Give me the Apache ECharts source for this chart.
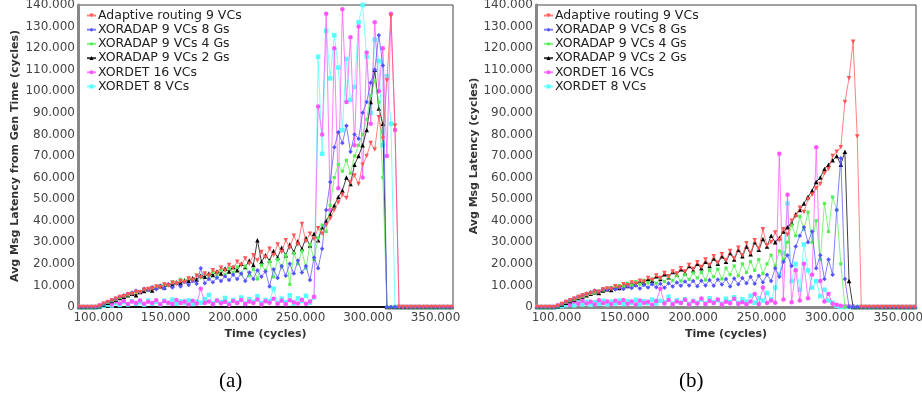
<!DOCTYPE html>
<html>
<head>
<meta charset="utf-8">
<script src="https://cdn.jsdelivr.net/npm/echarts@6/dist/echarts.min.js"></script>
<style>
  html, body { margin: 0; padding: 0; background: #fff; }
  #main { width: 922px; height: 404px; }
</style>
</head>
<body>
<div id="main"></div>
<script>
// time in kilocycles, latencies in kilocycles (labels print them as "x.000")
var time = [86, 89, 92, 95, 98, 101, 104, 107, 110, 113,
  116, 119, 122, 125, 128, 131, 134, 137, 140, 143,
  146, 149, 152, 155, 158, 161, 164, 167, 170, 173,
  176, 179, 182, 185, 188, 191, 194, 197, 200, 203,
  206, 209, 212, 215, 218, 221, 224, 227, 230, 233,
  236, 239, 242, 245, 248, 251, 254, 257, 260, 263,
  266, 269, 272, 275, 278, 281, 284, 287, 290, 293,
  296, 299, 302, 305, 308, 311, 314, 317, 320, 323,
  326, 329, 332, 335, 338, 341, 344, 347, 350, 353, 356, 359, 362];

var seriesNames = ['Adaptive routing 9 VCs', 'XORADAP 9 VCs 8 Gs', 'XORADAP 9 VCs 4 Gs',
  'XORADAP 9 VCs 2 Gs', 'XORDET 16 VCs', 'XORDET 8 VCs'];
var colors = ['#ff5555', '#5555ff', '#55ee55', '#000000', '#ff55ff', '#55ffff'];

// every series is flat at zero after its last sample
var tailZeros = [0, 0, 0, 0, 0, 0, 0, 0, 0, 0, 0, 0, 0];

// (a) latency measured from generation time
var adaptiveA = [0, 0, 0, 0, 0, 0.5, 1.5, 2.2, 3.0, 3.8,
  4.6, 5.0, 5.8, 6.0, 7.0, 6.8, 8.0, 8.3, 8.6, 9.5,
  9.2, 10.4, 10.0, 11.2, 10.8, 12.0, 11.5, 13.2, 12.6, 14.5,
  13.8, 15.5, 14.6, 17.0, 15.8, 18.2, 16.9, 19.5, 18.0, 21.0,
  19.4, 22.5, 20.0, 24.0, 21.5, 25.5, 23.0, 27.0, 24.0, 29.0,
  25.5, 31.0, 27.5, 33.0, 29.0, 38.5, 30.5, 34.0, 31.5, 36.5,
  34.0, 38.0, 41.0, 45.0, 48.5, 52.0, 50.5, 58.0, 61.0, 57.0,
  66.0, 70.0, 76.0, 73.0, 88.0, 78.0, 105.0, 135.0, 84.0, 0];
var xor8gA = [0, 0, 0, 0, 0, 0.5, 1.4, 2.4, 3.2, 3.9,
  4.8, 5.4, 6.2, 6.6, 7.5, 7.0, 8.5, 8.0, 9.2, 8.2,
  9.8, 8.6, 10.5, 9.0, 11.0, 9.5, 11.6, 10.2, 12.0, 10.8,
  18.0, 11.0, 13.0, 11.5, 13.6, 12.0, 14.2, 12.5, 15.0, 13.0,
  15.5, 12.0, 16.0, 13.0, 17.0, 14.0, 16.5, 9.5, 17.5, 13.5,
  19.0, 14.5, 20.0, 15.5, 21.5, 16.0, 19.0, 12.5, 23.0, 18.0,
  27.0, 45.0, 58.0, 74.0, 81.0, 76.0, 84.0, 72.0, 80.0, 78.0,
  90.0, 95.0, 104.0, 110.0, 126.0, 112.0, 0, 0, 0, 0];
var xor4gA = [0, 0, 0, 0, 0, 0.4, 1.3, 2.1, 2.9, 3.6,
  4.4, 5.2, 5.6, 6.5, 6.9, 7.2, 8.1, 8.0, 9.2, 8.8,
  10.0, 10.5, 10.2, 11.8, 11.4, 12.8, 12.0, 13.5, 12.7, 14.8,
  13.6, 15.4, 14.0, 16.3, 14.6, 17.2, 15.0, 18.0, 16.0, 18.6,
  15.2, 19.0, 14.5, 17.5, 13.0, 19.5, 17.0, 21.0, 14.0, 22.0,
  18.5, 24.0, 10.5, 25.0, 20.0, 26.0, 18.0, 29.0, 22.0, 32.0,
  38.0, 35.0, 47.0, 60.0, 66.0, 63.0, 68.0, 62.0, 70.0, 75.0,
  80.0, 87.0, 98.0, 105.0, 95.0, 60.0, 0, 0, 0, 0];
var xor2gA = [0, 0, 0, 0, 0, 0.3, 1.2, 2.0, 2.8, 3.5,
  4.2, 4.8, 5.5, 6.2, 5.4, 7.0, 7.4, 8.2, 7.6, 9.0,
  9.6, 9.0, 10.5, 10.2, 11.5, 11.0, 12.4, 12.0, 13.5, 12.8,
  14.5, 14.0, 15.5, 14.8, 16.5, 15.5, 17.8, 16.4, 18.5, 17.0,
  20.0, 18.5, 21.5, 19.5, 31.0, 21.0, 24.0, 21.5, 26.0, 23.0,
  27.5, 24.0, 29.0, 25.5, 30.5, 27.0, 32.0, 28.5, 34.0, 31.0,
  37.0, 40.0, 43.0, 47.0, 51.0, 54.0, 60.0, 57.0, 66.0, 70.0,
  75.0, 82.0, 95.0, 110.0, 92.0, 85.0, 0, 0, 0, 0];
var det16A = [0, 0, 0, 0, 0, 0.8, 1.5, 2.2, 1.2, 2.5,
  1.6, 2.8, 1.4, 2.6, 1.8, 3.0, 1.5, 2.4, 1.9, 3.1,
  1.3, 2.7, 2.0, 1.4, 3.2, 1.8, 2.5, 1.2, 2.9, 1.6,
  8.5, 1.9, 2.6, 1.3, 3.0, 1.7, 2.4, 1.1, 2.8, 1.9,
  3.3, 1.4, 2.6, 1.8, 3.5, 1.2, 2.7, 2.0, 3.8, 1.5,
  2.9, 1.3, 3.1, 2.2, 1.6, 3.4, 1.5, 2.6, 4.8, 93.0,
  80.0, 136.0, 45.0, 120.0, 55.0, 138.0, 95.0, 125.0, 75.0, 130.0,
  60.0, 118.0, 85.0, 132.0, 100.0, 120.0, 70.0, 136.0, 82.0, 0];
var det8A = [0, 0, 0, 0, 0, 0, 0.6, 1.1, 0.7, 1.8,
  1.0, 2.3, 1.2, 2.7, 1.5, 2.2, 1.1, 3.0, 1.6, 2.4,
  1.3, 2.9, 1.8, 3.4, 1.5, 2.6, 1.9, 3.1, 1.4, 2.5,
  2.0, 3.6, 5.6, 1.7, 3.0, 2.2, 4.2, 1.6, 3.2, 2.0,
  4.4, 1.5, 3.6, 2.4, 5.0, 1.8, 3.3, 2.6, 8.5, 1.9,
  3.9, 2.2, 5.4, 1.6, 4.0, 2.8, 5.2, 2.0, 4.5, 116.0,
  71.0, 128.0, 106.0, 126.0, 111.0, 82.0, 115.0, 96.0, 102.0, 132.0,
  140.0, 116.0, 90.0, 124.0, 114.0, 75.0, 107.0, 85.0, 0, 0];

// (b) latency
var adaptiveB = [0, 0, 0, 0, 0, 0.5, 1.4, 2.3, 3.1, 3.8,
  4.6, 5.3, 5.9, 6.5, 7.2, 7.0, 8.1, 8.6, 8.4, 9.6,
  9.2, 10.6, 10.1, 11.4, 10.8, 12.2, 11.7, 13.4, 12.5, 14.6,
  13.5, 15.8, 14.2, 16.5, 15.5, 18.0, 16.4, 19.5, 17.6, 20.8,
  18.5, 22.0, 19.5, 23.5, 20.5, 24.5, 21.5, 26.0, 22.5, 27.5,
  24.0, 29.5, 25.0, 31.0, 27.0, 36.0, 28.5, 30.0, 34.5, 31.0,
  36.0, 33.5, 40.0, 42.0, 46.0, 44.0, 50.0, 52.0, 55.0, 57.0,
  62.0, 64.0, 70.0, 72.0, 74.0, 95.0, 106.0, 123.0, 79.0, 0];
var xor8gB = [0, 0, 0, 0, 0, 0.5, 1.4, 2.4, 3.3, 4.0,
  4.9, 5.6, 6.2, 6.8, 7.6, 7.2, 8.3, 8.0, 8.8, 8.1,
  9.0, 8.4, 9.6, 8.8, 10.0, 8.6, 10.2, 9.0, 10.6, 9.2,
  10.8, 8.9, 11.0, 9.5, 11.4, 9.8, 11.8, 10.0, 12.0, 9.6,
  12.2, 10.0, 12.5, 9.8, 12.8, 10.4, 13.0, 9.5, 13.2, 10.5,
  13.4, 11.0, 14.0, 10.8, 14.5, 11.5, 15.0, 12.0, 18.0, 14.0,
  21.0, 24.0, 19.0, 28.0, 33.0, 37.0, 30.0, 35.0, 18.0, 24.0,
  13.0, 22.0, 15.0, 45.0, 69.0, 13.0, 0, 0, 0, 0];
var xor4gB = [0, 0, 0, 0, 0, 0.4, 1.3, 2.1, 2.9, 3.6,
  4.3, 5.0, 5.7, 6.3, 6.8, 7.5, 7.9, 8.6, 8.9, 9.4,
  10.0, 9.6, 11.0, 10.2, 11.8, 10.6, 12.4, 11.2, 13.0, 11.0,
  13.5, 11.8, 14.0, 12.2, 14.5, 12.0, 15.0, 12.8, 15.8, 13.5,
  16.0, 12.5, 17.0, 14.0, 17.5, 13.0, 18.0, 15.0, 19.0, 14.5,
  20.0, 16.0, 21.0, 17.0, 22.0, 15.5, 20.0, 24.0, 19.0, 26.0,
  22.0, 30.0, 38.0, 33.0, 42.0, 36.0, 44.0, 30.0, 40.0, 22.0,
  48.0, 35.0, 51.0, 45.0, 20.0, 0, 0, 0, 0, 0];
var xor2gB = [0, 0, 0, 0, 0, 0.3, 1.2, 2.0, 2.8, 3.5,
  4.2, 4.9, 5.5, 6.1, 6.8, 6.5, 7.6, 8.2, 7.9, 9.2,
  8.8, 10.2, 9.7, 11.0, 10.4, 11.8, 11.2, 13.0, 12.0, 14.2,
  13.0, 15.2, 13.8, 16.2, 15.0, 17.5, 15.8, 19.0, 17.0, 20.0,
  18.0, 21.0, 19.0, 22.5, 20.0, 23.5, 21.0, 25.0, 22.0, 26.5,
  23.5, 28.0, 24.5, 30.0, 26.5, 31.5, 28.0, 33.0, 30.0, 32.0,
  35.0, 37.0, 39.0, 43.0, 45.0, 48.0, 51.0, 54.0, 58.0, 60.0,
  64.0, 66.0, 68.0, 70.0, 66.0, 72.0, 12.0, 0, 0, 0];
var det16B = [0, 0, 0, 0, 0, 0.8, 1.4, 2.3, 1.1, 2.6,
  1.5, 2.9, 1.6, 2.4, 1.2, 3.1, 1.7, 2.5, 1.4, 2.9,
  1.8, 3.3, 1.5, 2.6, 1.2, 3.0, 1.9, 2.4, 1.1, 2.8,
  8.5, 1.6, 3.2, 1.3, 2.5, 1.9, 3.4, 1.2, 2.7, 1.6,
  3.9, 1.4, 2.8, 1.9, 3.5, 1.2, 2.4, 1.7, 3.8, 1.5,
  2.2, 1.3, 2.6, 6.0, 1.4, 9.0, 1.8, 3.0, 2.0, 71.0,
  3.5, 52.0, 2.2, 17.0, 3.0, 20.0, 4.0, 15.0, 74.0, 12.0,
  2.5, 6.0, 1.5, 1.0, 0.6, 0.4, 0.3, 0.2, 0, 0];
var det8B = [0, 0, 0, 0, 0, 0, 0.5, 0.9, 1.5, 0.8,
  2.0, 1.2, 2.4, 1.0, 2.2, 1.5, 2.8, 1.2, 2.5, 1.7,
  3.0, 1.4, 2.6, 1.9, 3.3, 1.3, 2.7, 1.8, 3.4, 1.6,
  2.9, 2.1, 4.8, 1.5, 3.1, 2.0, 3.6, 1.4, 2.8, 1.9,
  3.5, 1.6, 4.0, 2.1, 3.2, 1.5, 3.8, 2.3, 4.5, 1.8,
  3.6, 2.4, 5.2, 2.0, 4.1, 3.0, 6.5, 3.5, 9.0, 15.0,
  25.0, 48.0, 12.0, 20.0, 8.0, 29.0, 17.0, 9.0, 12.0, 5.0,
  8.0, 3.0, 2.0, 0.5, 0, 0, 0, 0, 0, 0];

var xTicks = [100, 150, 200, 250, 300, 350];

var panelA = [adaptiveA, xor8gA, xor4gA, xor2gA, det16A, det8A];
var panelB = [adaptiveB, xor8gB, xor4gB, xor2gB, det16B, det8B];
var symbols = ['triangle', 'diamond', 'diamond', 'triangle', 'circle', 'rect'];
var rotates = [180, 0, 45, 0, 0, 0];
var zs = [8, 7, 6, 5, 4, 3];

function fmt(v) { return v === 0 ? '0' : v + '.000'; }

var labelFont = { fontFamily: 'DejaVu Sans', fontSize: 12, color: '#444' };
var titleFont = { fontFamily: 'DejaVu Sans', fontSize: 11, fontWeight: 'bold', color: '#333' };

function xAxisFor(idx, lineColor, lineWidth) {
  return {
    type: 'value', gridIndex: idx, min: 85, max: 363,
    name: 'Time (cycles)', nameLocation: 'middle', nameGap: 21, nameTextStyle: titleFont,
    axisLine: { show: true, lineStyle: { color: lineColor, width: lineWidth } },
    axisTick: { show: false },
    splitLine: { show: false },
    axisLabel: Object.assign({ customValues: xTicks, formatter: fmt, margin: 5, showMaxLabel: true }, labelFont)
  };
}
function yAxisFor(idx, name, gap) {
  return {
    type: 'value', gridIndex: idx, min: 0, max: 140, interval: 10,
    name: name, nameLocation: 'middle', nameGap: gap, nameTextStyle: titleFont,
    axisLine: { show: true, lineStyle: { color: '#888', width: 3 } },
    axisTick: { show: false },
    splitLine: { show: false },
    axisLabel: Object.assign({ formatter: fmt, margin: 3 }, labelFont)
  };
}

var series = [];
[panelA, panelB].forEach(function (panel, p) {
  panel.forEach(function (vals, k) {
    var full = vals.concat(tailZeros);
    series.push({
      name: seriesNames[k], type: 'line',
      xAxisIndex: p, yAxisIndex: p,
      data: time.map(function (t, i) { return [t, full[i]]; }),
      symbol: symbols[k], symbolRotate: rotates[k], symbolSize: 4.5,
      showAllSymbol: true, z: zs[k],
      itemStyle: { color: colors[k] },
      lineStyle: { color: colors[k], width: 1, opacity: 0.75 },
      emphasis: { disabled: true }
    });
  });
});

function legendFor(left) {
  return {
    orient: 'vertical', left: left, top: 4, itemGap: 1.2,
    itemWidth: 9, itemHeight: 5,
    textStyle: { fontFamily: 'DejaVu Sans', fontSize: 12.5, color: '#222', padding: [0, 0, 0, -3] },
    data: seriesNames.map(function (n, k) {
      return { name: n, itemStyle: { color: colors[k] }, lineStyle: { color: colors[k] } };
    }),
    selectedMode: false
  };
}

var chart = echarts.init(document.getElementById('main'), null, { renderer: 'canvas' });
chart.setOption({
  animation: false,
  backgroundColor: '#fff',
  grid: [
    { left: 78, top: 5, width: 375, height: 302, show: true, borderColor: '#444', borderWidth: 1, outerBoundsMode: 'none' },
    { left: 536, top: 5, width: 380, height: 302, show: true, borderColor: '#444', borderWidth: 1, outerBoundsMode: 'none' }
  ],
  xAxis: [xAxisFor(0, '#111', 2), xAxisFor(1, '#888', 3)],
  yAxis: [yAxisFor(0, 'Avg Msg Latency from Gen Time (cycles)', 57), yAxisFor(1, 'Avg Msg Latency (cycles)', 45)],
  legend: [legendFor(81), legendFor(538)],
  series: series,
  graphic: [
    { type: 'text', left: 219, top: 371, style: { text: '(a)', font: '21px "Liberation Serif"', fill: '#000' } },
    { type: 'text', left: 679, top: 371, style: { text: '(b)', font: '21px "Liberation Serif"', fill: '#000' } }
  ]
});
</script>
</body>
</html>
